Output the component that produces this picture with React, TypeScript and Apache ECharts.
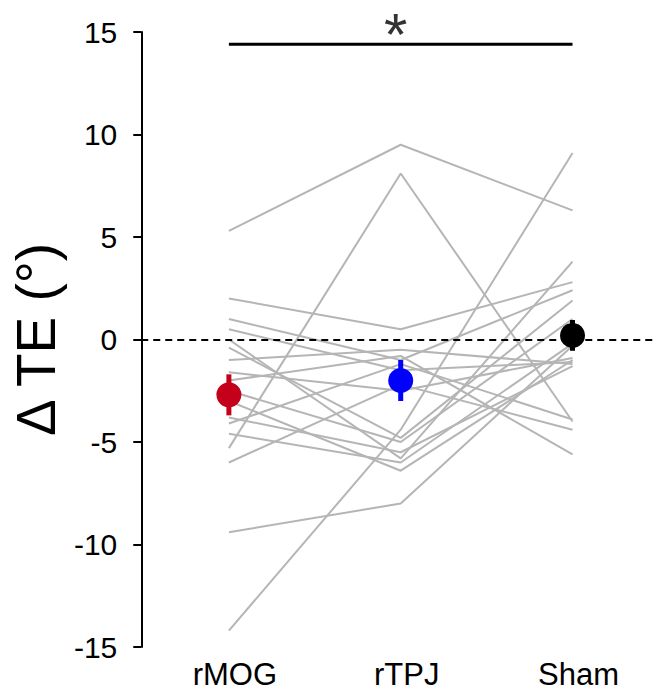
import React, { useEffect, useRef } from "react";
import * as echarts from "echarts";

const categories = ["rMOG", "rTPJ", "Sham"];
const yTicks = [-15, -10, -5, 0, 5, 10, 15];

// individual subjects: [rMOG, rTPJ, Sham]
const subjects: number[][] = [
  [5.3, 9.5, 6.3],
  [-5.3, 8.1, -4.0],
  [-14.2, -4.4, 9.1],
  [-9.4, -8.0, -0.3],
  [2.0, 0.5, 2.8],
  [1.0, -1.0, 2.4],
  [0.0, -5.8, 3.8],
  [-0.4, -4.8, 1.9],
  [-1.0, -0.5, -1.2],
  [-1.6, -2.5, -0.9],
  [-2.0, -0.8, -5.6],
  [-3.0, -6.4, -1.0],
  [-3.8, -5.5, -1.3],
  [-4.1, -1.2, -3.9],
  [-4.6, -6.0, -0.2],
  [-6.0, -2.2, -4.4],
  [-2.5, -5.0, 1.0],
  [0.5, -1.5, -1.1],
];

const means = [-2.7, -2.0, 0.2];
const errors = [1.0, 1.0, 0.75];
const meanColors = ["#c4001a", "#0000ff", "#000000"];

const sigLevel = 14.4;
const sigFrom = 1;
const sigTo = 3;
const sigText = "*";

export default function App() {
  const ref = useRef<HTMLDivElement>(null);
  useEffect(() => {
    if (!ref.current) return;
    const chart = echarts.init(ref.current, null, { renderer: "svg" });
    const font = "Liberation Sans, Arial, sans-serif";
    const series: any[] = [];
    subjects.forEach((s, i) => {
      series.push({
        type: "line",
        name: "s" + i,
        data: s.map((v, j) => [j + 1, v]),
        symbol: "none",
        lineStyle: { color: "#b5b5b5", width: 2 },
        z: 2,
        silent: true,
      });
    });
    series.push({
      type: "line",
      data: [],
      markLine: {
        silent: true,
        symbol: "none",
        label: { show: false },
        lineStyle: { color: "#000", type: [7, 5], width: 2 },
        data: [{ yAxis: 0 }],
      },
      z: 3,
    });
    means.forEach((m, i) => {
      series.push({
        type: "line",
        data: [
          [i + 1, m - errors[i]],
          [i + 1, m + errors[i]],
        ],
        symbol: "none",
        lineStyle: { color: meanColors[i], width: 5 },
        z: 5,
        silent: true,
      });
    });
    series.push({
      type: "scatter",
      data: means.map((m, i) => ({
        value: [i + 1, m],
        itemStyle: { color: meanColors[i], opacity: 1 },
      })),
      symbolSize: 25,
      z: 6,
      silent: true,
    });
    series.push({
      type: "line",
      data: [
        [sigFrom, sigLevel],
        [sigTo, sigLevel],
      ],
      symbol: "none",
      lineStyle: { color: "#000", width: 3 },
      z: 5,
      silent: true,
    });
    series.push({
      type: "scatter",
      data: [[(sigFrom + sigTo) / 2, sigLevel]],
      symbolSize: 0,
      silent: true,
      label: {
        show: true,
        formatter: sigText,
        position: "inside",
        offset: [-5, -10],
        fontSize: 60,
        lineHeight: 30,
        color: "#000",
        fontFamily: font,
      },
      z: 5,
    });
    chart.setOption({
      animation: false,
      grid: { left: 138, right: 8, top: 32, bottom: 47 },
      xAxis: {
        type: "value",
        min: 0.49,
        max: 3.48,
        axisLine: { show: false },
        axisTick: { show: false },
        splitLine: { show: false },
        axisLabel: {
          customValues: [1, 2, 3],
          formatter: (v: number) => categories[Math.round(v) - 1] ?? "",
          fontSize: 31,
          color: "#000",
          fontFamily: font,
          margin: 12,
          padding: [0, 0, 0, 12],
        },
      },
      yAxis: {
        type: "value",
        min: yTicks[0],
        max: yTicks[yTicks.length - 1],
        interval: 5,
        name: "Δ TE (°)",
        nameLocation: "middle",
        nameRotate: 90,
        nameGap: 74,
        nameTextStyle: { fontSize: 55, color: "#000", fontFamily: font },
        axisLine: { show: true, lineStyle: { color: "#000", width: 2 } },
        axisTick: { show: true, inside: false, length: 8, lineStyle: { color: "#000", width: 2 } },
        splitLine: { show: false },
        axisLabel: { fontSize: 30, color: "#000", fontFamily: font, margin: 24 },
      },
      series,
    });
    return () => chart.dispose();
  }, []);
  return (
    <div
      ref={ref}
      style={{ position: "fixed", left: 0, top: 0, width: 663, height: 694, background: "#fff" }}
    />
  );
}
